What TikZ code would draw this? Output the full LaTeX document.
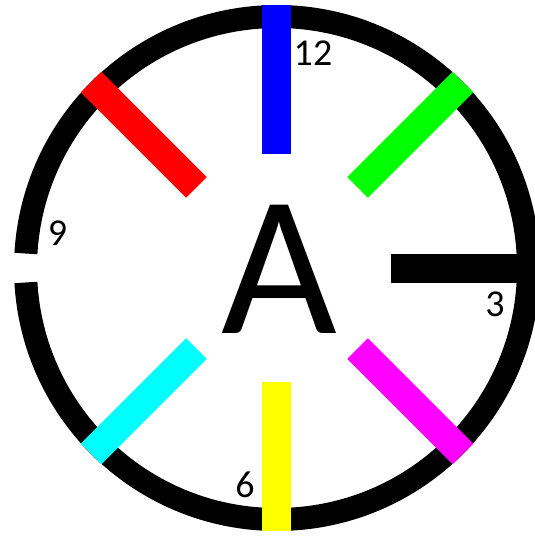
\documentclass[tikz,border=0pt]{standalone}
\usepackage{fontspec}
\setmainfont{Carlito}
\definecolor{dialblue}{RGB}{0,0,255}
\definecolor{dialgreen}{RGB}{0,255,0}
\definecolor{dialred}{RGB}{255,0,0}
\definecolor{dialcyan}{RGB}{0,255,255}
\definecolor{dialyellow}{RGB}{255,255,0}
\definecolor{dialmagenta}{RGB}{255,0,255}
\begin{document}
\begin{tikzpicture}[
      x=1pt, y=1pt,
      ring/.style={line width=23pt},
      spoke/.style={line width=29pt, line cap=butt},
      hour/.style={inner sep=0pt, font=\fontsize{38}{38}\selectfont}
    ]
    \useasboundingbox (-277,-271) rectangle (258,268);
    % dial with the gap at 9
    \draw[ring] (-176.7:251.5) arc (-176.7:176.7:251.5);
    \draw[spoke, dialblue] (90:114) -- (90:263);
    \draw[spoke, dialgreen] (45:114) -- (45:263);
    \draw[spoke, dialred] (135:114) -- (135:263);
    \draw[spoke, dialcyan] (225:114) -- (225:263);
    \draw[spoke, dialyellow] (270:114) -- (270:263);
    \draw[spoke, dialmagenta] (315:114) -- (315:263);
    \draw[spoke, black] (114,0) -- (251.5,0);
    \node[hour] (twelve) at (36,215) {12};
    \node[hour] (nine) at (-219.4,35) {9};
    \node[hour] (three) at (218,-36.5) {3};
    \node[hour] (six) at (-32,-217) {6};
    \node[inner sep=0pt, font=\fontsize{200}{200}\selectfont] (letter) at (2,-1) {A};
  \end{tikzpicture}
\end{document}
